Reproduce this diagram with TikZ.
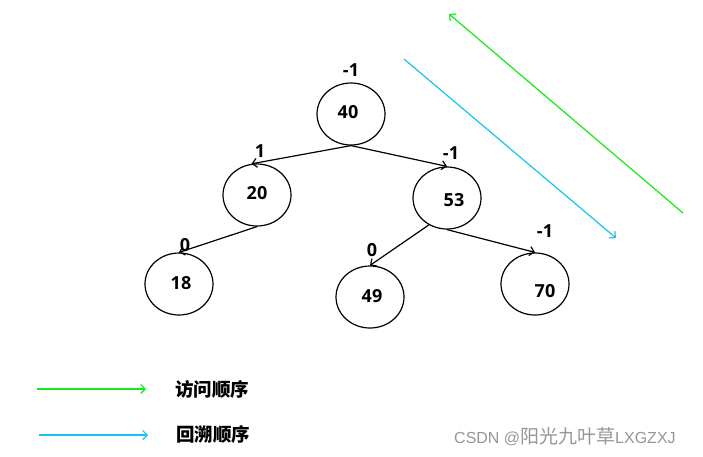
\documentclass[tikz,border=0pt]{standalone}
\usepackage{fontspec}
\setmainfont{Open Sans}
\newfontfamily\cjkf{Noto Sans CJK SC}
\newfontfamily\wmf{Liberation Sans}
\usetikzlibrary{shapes.geometric,arrows.meta}
\definecolor{visitgreen}{RGB}{20,235,20}
\definecolor{backblue}{RGB}{20,195,245}
\definecolor{wmgray}{RGB}{150,150,150}
\begin{document}
\begin{tikzpicture}[x=1pt,y=-1pt,
  tnode/.style={ellipse,draw,line width=1.2pt,minimum width=68pt,minimum height=62pt,inner sep=0pt},
  num/.style={font=\fontsize{18}{18}\selectfont\bfseries,inner sep=0pt},
  edge/.style={line width=1.2pt,-{Straight Barb[length=4.5pt,width=9pt]}},
  legend/.style={font=\cjkf\fontsize{18.5}{18.5}\selectfont\bfseries,anchor=west,inner sep=0pt},
]
\useasboundingbox (0,0) rectangle (703,456);
% nodes
\node[tnode] (n40) at (351,114) {};
\node[tnode] (n20) at (257,195) {};
\node[tnode] (n53) at (447,198) {};
\node[tnode] (n18) at (179,284) {};
\node[tnode] (n49) at (370,297) {};
\node[tnode] (n70) at (535,284) {};
% numbers
\node[num] (t40) at (348,112) {40};
\node[num] (t20) at (257,193) {20};
\node[num] (t53) at (454,200) {53};
\node[num] (t18) at (181,283) {18};
\node[num] (t49) at (372,296) {49};
\node[num] (t70) at (545,291) {70};
% balance factors
\node[num] (b40) at (351,70) {-1};
\node[num] (b20) at (260,151) {1};
\node[num] (b53) at (451,153) {-1};
\node[num] (b18) at (185,245) {0};
\node[num] (b49) at (372,250) {0};
\node[num] (b70) at (545,231) {-1};
% edges
\draw[edge] (n40.south) -- (n20.100);
\draw[edge] (n40.south) -- (n53.north);
\draw[edge] (n20.south) -- (n18.north);
\draw[edge] (n53.-124) -- (n49.north);
\draw[edge] (n53.south) -- (n70.north);
% order arrows
\coordinate (g1) at (683,213);
\coordinate (g2) at (449,14);
\coordinate (c1) at (404,59);
\coordinate (c2) at (616,238);
\draw[visitgreen,line width=1.2pt,-{Straight Barb[length=4.5pt,width=9pt]}] (g1) -- (g2);
\draw[backblue,line width=1.2pt,-{Straight Barb[length=4.5pt,width=9pt]}] (c1) -- (c2);
% legend
\coordinate (lg1) at (37,389);
\coordinate (lg2) at (146,389);
\coordinate (lb1) at (39,435);
\coordinate (lb2) at (148,435);
\draw[visitgreen,line width=1.2pt,-{Straight Barb[length=4.5pt,width=9pt]}] (lg1) -- (lg2);
\draw[backblue,line width=1.2pt,-{Straight Barb[length=4.5pt,width=9pt]}] (lb1) -- (lb2);
\node[legend] (lgt) at (175,389) {访问顺序};
\node[legend] (lbt) at (176,434) {回溯顺序};
% watermark
\node[text=wmgray,anchor=west,inner sep=0pt] (wm) at (454,437) {\wmf\fontsize{16}{16}\selectfont CSDN @{\cjkf\fontsize{19}{19}\selectfont 阳光九叶草}LXGZXJ};
\end{tikzpicture}
\end{document}
